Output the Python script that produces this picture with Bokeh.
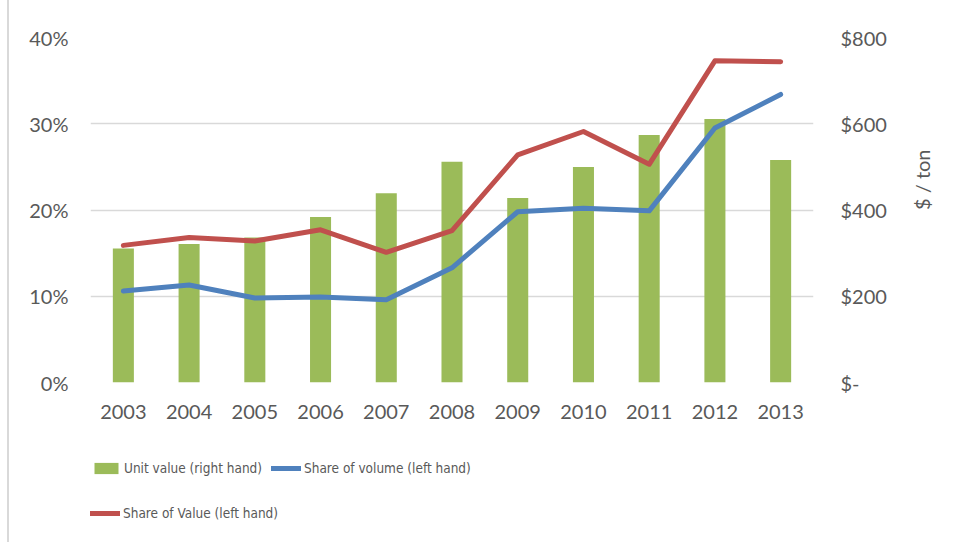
import math
from bokeh.plotting import figure
from bokeh.layouts import column
from bokeh.models import (FactorRange, Range1d, LinearAxis, Legend, LegendItem,
                          FixedTicker)
from bokeh.embed import file_html
from bokeh.resources import INLINE

years = ["2003", "2004", "2005", "2006", "2007", "2008", "2009", "2010", "2011", "2012", "2013"]
unit_value = [311, 321, 336, 384, 439, 512, 428, 500, 574, 611, 516]          # $ / ton, right axis
share_volume = [10.6, 11.3, 9.8, 9.9, 9.6, 13.3, 19.8, 20.2, 19.9, 29.5, 33.4]  # %, left axis
share_value = [15.9, 16.8, 16.4, 17.7, 15.1, 17.6, 26.4, 29.1, 25.3, 37.3, 37.2]  # %, left axis

left_ticks = [0, 10, 20, 30, 40]
left_labels = ["0%", "10%", "20%", "30%", "40%"]
right_ticks = [0, 200, 400, 600, 800]
right_labels = ["$-", "$200", "$400", "$600", "$800"]
legend_labels = ["Unit value (right hand)", "Share of volume (left hand)", "Share of Value (left hand)"]

FONT = "Lato"
LEG_FONT = "DejaVu Sans Condensed, Lato"
TXT = "#595959"
GREEN = "#9BBB59"
BLUE = "#4F81BD"
RED = "#C0504D"
GRID = "#D9D9D9"
FRAME_STYLE = {"border-left": "2px solid #D9D9D9", "margin-left": "7px"}

# ---------------- main chart ----------------
p = figure(width=945, height=426, x_range=FactorRange(*years, range_padding=0),
           y_range=Range1d(0, 40), output_backend="svg", toolbar_location=None,
           min_border_left=81, min_border_right=141, min_border_top=37, min_border_bottom=44,
           styles=FRAME_STYLE)
p.extra_y_ranges = {"usd": Range1d(0, 800)}

p.outline_line_color = None
p.xgrid.grid_line_color = None
p.ygrid.grid_line_color = GRID
p.ygrid.grid_line_width = 1.5
p.ygrid.ticker = FixedTicker(ticks=left_ticks)

p.vbar(x=years, top=unit_value, width=0.32, y_range_name="usd",
       fill_color=GREEN, line_color=None)
p.line(x=years, y=share_volume, line_color=BLUE, line_width=5,
       line_cap="round", line_join="round")
p.line(x=years, y=share_value, line_color=RED, line_width=5,
       line_cap="round", line_join="round")

ya = p.yaxis[0]
ya.ticker = FixedTicker(ticks=left_ticks)
ya.major_label_overrides = {t: s for t, s in zip(left_ticks, left_labels)}

ra = LinearAxis(y_range_name="usd", ticker=FixedTicker(ticks=right_ticks))
ra.major_label_overrides = {t: s for t, s in zip(right_ticks, right_labels)}
p.add_layout(ra, "right")

# outer right axis that only carries the "$ / ton" title
ta = LinearAxis(y_range_name="usd", ticker=FixedTicker(ticks=[]), axis_label="$ / ton",
                bounds=(0, 660), major_tick_out=0, major_tick_in=0,
                minor_tick_out=0, minor_tick_in=0, major_label_standoff=0)
p.add_layout(ta, "right")

for ax in [p.xaxis[0], ya, ra, ta]:
    ax.axis_line_color = None
    ax.major_tick_line_color = None
    ax.minor_tick_line_color = None
    ax.major_label_text_font = FONT
    ax.major_label_text_font_size = "20px"
    ax.major_label_text_color = TXT
    ax.axis_label_text_font = FONT
    ax.axis_label_text_font_size = "20px"
    ax.axis_label_text_font_style = "normal"
    ax.axis_label_text_color = TXT

ya.major_label_standoff = 16
ra.major_label_standoff = 21
ta.axis_label_standoff = 32
ta.axis_label_orientation = math.pi / 2
p.xaxis[0].major_label_standoff = 16

# ---------------- legend strip ----------------
p2 = figure(width=945, height=116, x_range=Range1d(0, 1), y_range=Range1d(0, 1),
            x_axis_type=None, y_axis_type=None, output_backend="svg", toolbar_location=None,
            min_border_left=0, min_border_right=0, min_border_top=0, min_border_bottom=0,
            styles=FRAME_STYLE)
p2.outline_line_color = None
p2.grid.visible = False

# legend proxies, placed outside the visible range of the legend strip
proxy_x = [-5, -4]
proxy_y = [-5, -4]
g_bar = p2.vbar(x=proxy_x, top=proxy_y, width=0.3, fill_color=GREEN, line_color=None)
g_vol = p2.line(x=proxy_x, y=proxy_y, line_color=BLUE, line_width=5, line_cap="round")
g_val = p2.line(x=proxy_x, y=proxy_y, line_color=RED, line_width=5, line_cap="round")

legs = [
    Legend(items=[LegendItem(label=legend_labels[0], renderers=[g_bar])], location=(1, 66)),
    Legend(items=[LegendItem(label=legend_labels[1], renderers=[g_vol])], location=(181, 66)),
    Legend(items=[LegendItem(label=legend_labels[2], renderers=[g_val])], location=(0, 21)),
]
for lg in legs:
    lg.padding = 0
    lg.margin = 0
    lg.border_line_color = None
    lg.background_fill_alpha = 0
    lg.glyph_width = 30
    lg.glyph_height = 14
    lg.label_standoff = 3
    lg.label_text_font = LEG_FONT
    lg.label_text_font_size = "13.5px"
    lg.label_text_color = TXT
    p2.add_layout(lg, "center")

layout = column(p, p2, spacing=0)
open("out.html", "w").write(file_html(layout, INLINE))
